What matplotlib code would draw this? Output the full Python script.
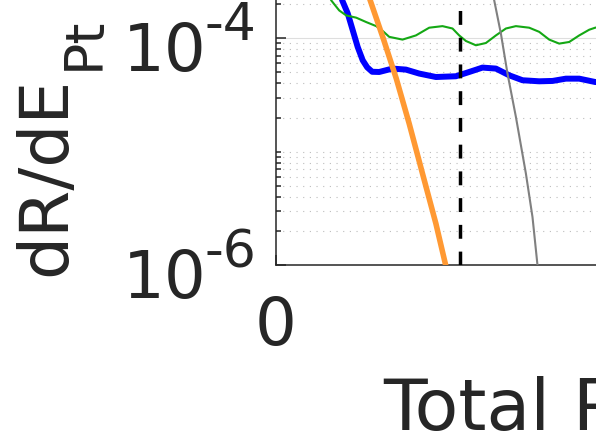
import matplotlib
matplotlib.use("Agg")
import matplotlib.pyplot as plt

# --- valores (energia em keV, taxa dR/dE) ---
total_e = [6.1, 6.6, 7.15, 7.65, 8.15, 8.65, 9.1, 9.6, 10.3, 11.63, 12.97, 14.3,
           15.97, 17.97, 19.3, 20.63, 21.97, 23.3, 24.63, 26.3, 27.63, 28.97,
           30.3, 31.9, 32.8]
total_r = [3.24e-4, 2.16e-4, 1.66e-4, 1.18e-4, 8.38e-5, 6.40e-5, 5.55e-5, 5.07e-5,
           5.05e-5, 5.41e-5, 5.30e-5, 4.89e-5, 4.56e-5, 4.63e-5, 5.05e-5, 5.52e-5,
           5.41e-5, 4.72e-5, 4.27e-5, 4.18e-5, 4.21e-5, 4.41e-5, 4.41e-5, 4.12e-5,
           4.10e-5]

green_e = [4.9, 5.5, 6.3, 7.0, 8.0, 9.0, 10.0, 10.7, 11.3, 12.63, 13.97, 15.3,
           16.63, 17.63, 18.3, 18.97, 19.97, 20.97, 21.97, 22.97, 23.97, 25.3,
           26.3, 27.3, 28.3, 29.3, 30.3, 31.3, 31.9, 32.8]
green_r = [2.93e-4, 2.16e-4, 1.76e-4, 1.59e-4, 1.52e-4, 1.39e-4, 1.28e-4, 1.15e-4,
           1.03e-4, 9.74e-5, 1.06e-4, 1.24e-4, 1.28e-4, 1.22e-4, 1.06e-4, 9.47e-5,
           8.68e-5, 9.09e-5, 1.06e-4, 1.22e-4, 1.28e-4, 1.24e-4, 1.14e-4, 9.74e-5,
           8.98e-5, 9.28e-5, 1.06e-4, 1.19e-4, 1.24e-4, 1.28e-4]

orange_e = [8.9, 9.4, 10.7, 12.0, 13.3, 14.63, 15.97, 16.95, 17.5]
orange_r = [2.93e-4, 2.16e-4, 1.0e-4, 4.44e-5, 1.77e-5, 6.43e-6, 2.33e-6, 1.0e-6, 6.02e-7]

gray_e = [21.5, 21.8, 22.47, 23.13, 23.97, 24.97, 25.63, 26.13, 26.4]
gray_r = [2.93e-4, 2.16e-4, 1.10e-4, 4.89e-5, 2.03e-5, 6.43e-6, 2.66e-6, 1.0e-6, 6.02e-7]

threshold_e = 18.35

y_major = [1e-6, 1e-4]
y_major_labels = ["-6", "-4"]
x_ticks = [0, 50, 100]

COR_TEXTO = "#262626"
W, H = 596, 447


def px(x, y):
    # pixel (a partir do topo) -> fração da figura
    return x / W, (H - y) / H


fig = plt.figure(figsize=(W / 100, H / 100), dpi=100)
ax = fig.add_axes([276.2 / W, (H - 265.3) / H, 1000 / W, 340.5 / H])

ax.set_yscale("log")
ax.set_xlim(0, 100)
ax.set_ylim(1e-6, 1e-3)

ax.plot(total_e, total_r, color="#0000ff", lw=4.3, zorder=3)
ax.plot(green_e, green_r, color="#14a814", lw=1.5, zorder=3)
ax.plot(orange_e, orange_r, color="#ff9933", lw=4.0, zorder=4)
ax.plot(gray_e, gray_r, color="#808080", lw=1.5, zorder=5)
ax.plot([threshold_e, threshold_e], [1e-6, 1e-3], color="black", lw=2.5,
        dashes=(4.0, 3.7), zorder=6)

minor = [m * 10.0 ** k for k in (-6, -5, -4) for m in range(1, 10)]
minor = [v for v in minor if v not in y_major]
ax.set_yticks(y_major)
ax.set_yticks(minor, minor=True)
ax.set_xticks(x_ticks)
ax.xaxis.set_minor_locator(matplotlib.ticker.NullLocator())

ax.yaxis.grid(True, which="major", color="#dedede", lw=0.8, ls="-")
ax.yaxis.grid(True, which="minor", color="#bdbdbd", lw=0.8, ls=(0, (1, 5)))
ax.set_axisbelow(True)

ax.tick_params(which="both", direction="in", color=COR_TEXTO, width=1.1,
               labelleft=False, labelbottom=False)
ax.tick_params(which="major", length=7.5)
ax.tick_params(which="minor", length=3.5)
for s in ax.spines.values():
    s.set_color(COR_TEXTO)
    s.set_linewidth(1.1)

# rótulos dos ticks no estilo 10^-n
ytrans = ax.get_yaxis_transform()
for val, exp in zip(y_major, y_major_labels):
    ax.annotate("10", xy=(0, val), xycoords=ytrans, xytext=(-153.5, -32.5),
                textcoords="offset pixels", ha="left", va="baseline",
                fontsize=47.3, color=COR_TEXTO, annotation_clip=False)
    ax.annotate(exp, xy=(0, val), xycoords=ytrans, xytext=(-71.7, -2),
                textcoords="offset pixels", ha="left", va="baseline",
                fontsize=37.5, color=COR_TEXTO, annotation_clip=False)

ax.annotate("0", xy=(0, 0), xycoords=ax.get_xaxis_transform(), xytext=(-0.7, -80),
            textcoords="offset pixels", ha="center", va="baseline",
            fontsize=47.3, color=COR_TEXTO, annotation_clip=False)

fig.text(*px(383, 430), "Total Pt Energy (keV)", fontsize=51.6,
         ha="left", va="baseline", color=COR_TEXTO)
fig.text(*px(65, 275.7), "dR/dE", fontsize=49, rotation=90,
         rotation_mode="anchor", ha="left", va="baseline", color=COR_TEXTO)
fig.text(*px(99, 70.3), "Pt", fontsize=38.6, rotation=90,
         rotation_mode="anchor", ha="left", va="baseline", color=COR_TEXTO)

fig.savefig("out.png", dpi=100)
